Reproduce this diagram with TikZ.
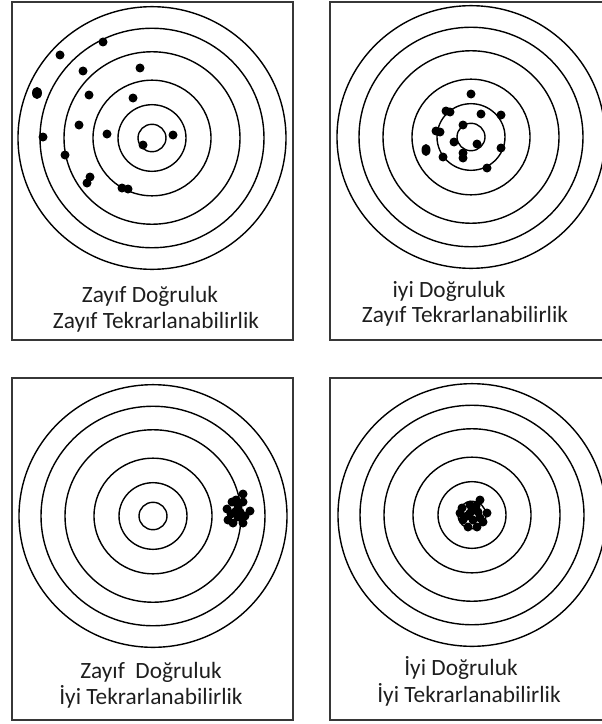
\documentclass[tikz,border=0pt]{standalone}
\usepackage{fontspec}
\setmainfont{Carlito}
\usetikzlibrary{positioning}
\definecolor{framegray}{RGB}{55,55,55}
\definecolor{textdark}{RGB}{30,30,30}

\begin{document}
\begin{tikzpicture}[
  x=0.75pt, y=-0.75pt,
  panel/.style={draw=framegray, line width=1pt},
  ring/.style={draw=black, line width=1.05pt},
  shot/.style={fill=black},
  caption/.style={anchor=base, inner sep=0pt, text=textdark, font=\fontsize{17.5}{21}\selectfont}
]
\clip (0,0) rectangle (602,724);

% Panel frames
\foreach \xa/\ya/\xb/\yb in {12/2/293/340, 330/2/612/340, 12/378/293/720, 330/378/612/720}{
  \draw[panel] (\xa,\ya) rectangle (\xb,\yb);
}

% Target rings
\foreach \cx/\cy in {152/138, 471/137, 153/516, 472/515}{
  \foreach \r in {134,112,88,59,34,14}{
    \draw[ring] (\cx,\cy) ellipse [x radius=\r, y radius={0.98*\r}];
  }
}

% Shots: poor accuracy, poor repeatability
\foreach \sx/\sy in {103/42, 60/55, 83/71, 140/68, 89/95, 133/98, 79/125, 43/137,
  107/134, 173/135, 143/145, 65/155, 87/183, 90/177, 122/188, 128/189}{
  \fill[shot] (\sx,\sy) circle (4.5);
}
\fill[shot] (37,93) ellipse [x radius=5, y radius=6];

% Shots: good accuracy, poor repeatability
\foreach \sx/\sy in {471/94, 446/111, 450/112, 481/114, 501/115, 463/125, 436/131, 440/132,
  454/142, 477/144, 501/148, 443/157, 463/153, 463/158, 487/168}{
  \fill[shot] (\sx,\sy) circle (4.5);
}
\fill[shot] (426,150) ellipse [x radius=4.5, y radius=6];

% Shots: poor accuracy, good repeatability
\foreach \sx/\sy in {243/494, 232/502, 243/502, 250/511, 227/509, 235/512, 228/520,
  238/517, 243/523, 233/523, 238/507, 231/514, 240/512, 236/500, 245/516}{
  \fill[shot] (\sx,\sy) circle (4.5);
}

% Shots: good accuracy, good repeatability
\foreach \sx/\sy in {480/500, 470/505, 462/508, 487/513, 478/512, 463/520, 473/520,
  483/522, 468/527, 477/527, 460/513, 470/513, 476/506, 467/516, 480/518, 473/509}{
  \fill[shot] (\sx,\sy) circle (4.5);
}

% Captions
\node[caption] (c1a) at (150,302) {Zayıf Doğruluk};
\node[caption] (c1b) at (156,328) {Zayıf Tekrarlanabilirlik};
\node[caption] (c2a) at (449,297) {iyi Doğruluk};
\node[caption] (c2b) at (465,322) {Zayıf Tekrarlanabilirlik};
\node[caption] (c3a) at (151,678) {Zayıf\ \ Doğruluk};
\node[caption] (c3b) at (151,704) {İyi Tekrarlanabilirlik};
\node[caption] (c4a) at (461,675) {İyi Doğruluk};
\node[caption] (c4b) at (469,702) {İyi Tekrarlanabilirlik};

\end{tikzpicture}
\end{document}
